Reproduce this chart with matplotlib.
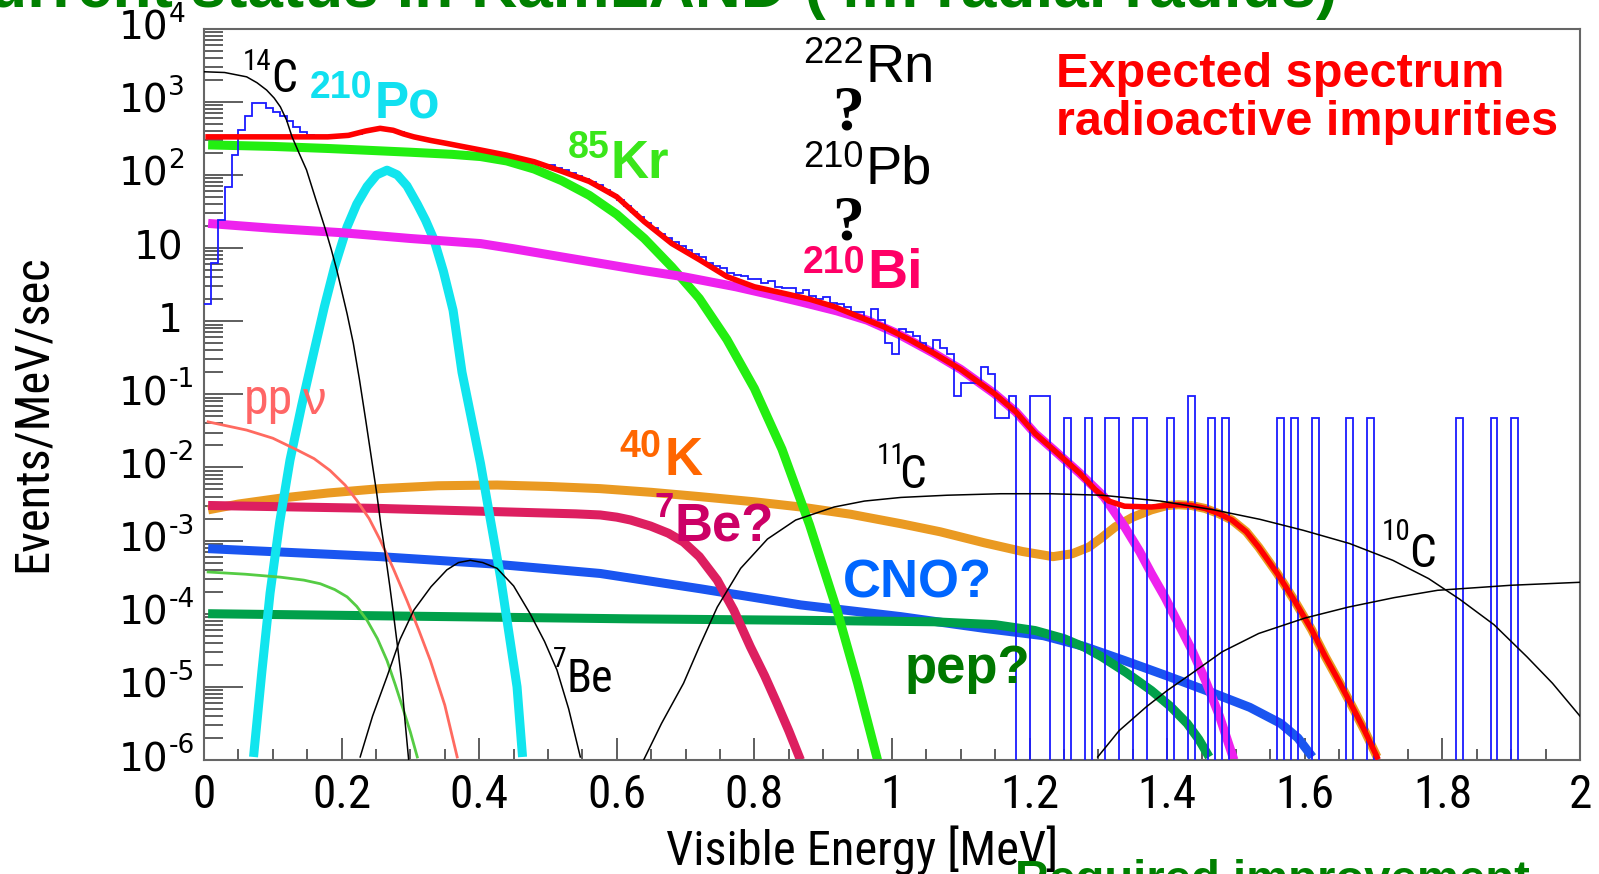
import numpy as np
import matplotlib
matplotlib.use('Agg')
import matplotlib.pyplot as plt
from matplotlib import font_manager as fm
from matplotlib.transforms import offset_copy
from matplotlib.ticker import FixedLocator, FixedFormatter, LogLocator, NullFormatter, MultipleLocator

# ---------------- data (Visible energy [MeV], Events/MeV/sec) ----------------
c14_x = [0.0, 0.03, 0.062, 0.077, 0.091, 0.102, 0.111, 0.12, 0.128, 0.138, 0.149, 0.162, 0.176, 0.185, 0.193,
         0.2, 0.208, 0.217, 0.226, 0.235, 0.243, 0.251, 0.257, 0.263, 0.27, 0.276, 0.282, 0.287, 0.292, 0.298]
c14_y = [2570, 2510, 2190, 1820, 1445, 1122, 851, 562, 331, 200, 117, 47.9, 18.6, 9.55, 5.01,
         2.63, 1.26, 0.50, 0.158, 0.0447, 0.0141, 0.00447, 1.66e-3, 7.08e-4, 2.40e-4, 8.91e-5, 3.16e-5,
         1.26e-5, 3.55e-6, 8.9e-7]

total_x = [0.006, 0.10, 0.18, 0.21, 0.235, 0.256, 0.275, 0.29, 0.305, 0.33, 0.353, 0.38, 0.402, 0.44, 0.48,
           0.52, 0.56, 0.60, 0.64, 0.68, 0.72, 0.76, 0.80, 0.843, 0.88, 0.916, 0.95, 0.988, 1.025, 1.061, 1.10,
           1.149, 1.18, 1.208, 1.24, 1.273, 1.295, 1.315, 1.338, 1.377, 1.40, 1.416, 1.435, 1.455, 1.475, 1.494,
           1.515, 1.533, 1.56, 1.585, 1.61, 1.630, 1.65, 1.669, 1.687, 1.705]
total_y = [331, 331, 331, 347, 398, 433, 407, 363, 331, 295, 269, 240, 219, 186, 151,
           112, 81.3, 50.1, 22.9, 11.5, 6.92, 4.07, 2.95, 2.40, 2.0, 1.58, 1.17, 0.838, 0.562, 0.363, 0.219,
           0.102, 0.0575, 0.0291, 0.0158, 0.00832, 0.00501, 0.00347, 0.00295, 0.00288, 0.00302, 0.00309, 0.00302,
           0.00275, 0.00234, 0.00191, 0.00132, 8.13e-4, 3.55e-4, 1.51e-4, 6.03e-5, 2.57e-5, 1.17e-5, 5.37e-6,
           2.51e-6, 1.10e-6]

kr85_x = [0.006, 0.10, 0.183, 0.30, 0.36, 0.402, 0.44, 0.48, 0.52, 0.56, 0.60, 0.64, 0.68, 0.72, 0.76, 0.80,
          0.84, 0.88, 0.92, 0.95, 0.979]
kr85_y = [257, 245, 229, 204, 191, 178, 155, 120, 83.2, 52.5, 28.8, 13.5, 5.50, 2.04, 0.562, 0.120,
          0.0178, 0.00166, 1.12e-4, 1.12e-5, 1.0e-6]

bi210_x = [0.006, 0.10, 0.20, 0.30, 0.402, 0.45, 0.50, 0.576, 0.64, 0.697, 0.773, 0.82, 0.867, 0.92, 0.964,
           1.01, 1.061, 1.10, 1.149, 1.18, 1.208, 1.24, 1.273, 1.308, 1.338, 1.36, 1.377, 1.397, 1.416, 1.436,
           1.455, 1.476, 1.497]
bi210_y = [21.7, 18.6, 16.2, 13.5, 11.5, 9.77, 8.13, 6.17, 4.90, 4.05, 2.95, 2.34, 1.84, 1.38, 1.03,
           0.661, 0.363, 0.219, 0.102, 0.0575, 0.0291, 0.0158, 0.00832, 0.00398, 0.00155, 7.08e-4, 3.55e-4,
           1.66e-4, 7.41e-5, 3.16e-5, 1.26e-5, 3.98e-6, 1.0e-6]

po210_x = [0.072, 0.084, 0.096, 0.110, 0.125, 0.142, 0.159, 0.175, 0.19, 0.208, 0.222, 0.237, 0.251, 0.266,
           0.281, 0.295, 0.31, 0.322, 0.334, 0.348, 0.362, 0.375, 0.388, 0.402, 0.416, 0.431, 0.443, 0.455, 0.463]
po210_y = [1.10e-6, 1.58e-5, 1.91e-4, 1.78e-3, 0.0126, 0.0708, 0.355, 1.58, 5.62, 19.5, 39.8, 69.2, 100, 116,
           100, 70.8, 39.8, 24.0, 13.2, 4.79, 1.41, 0.200, 0.0501, 0.0112, 2.0e-3, 3.16e-4, 5.62e-5, 1.0e-5, 1.10e-6]

k40_x = [0.006, 0.05, 0.111, 0.18, 0.256, 0.34, 0.426, 0.50, 0.576, 0.65, 0.722, 0.80, 0.867, 0.94, 1.013, 1.07,
         1.134, 1.19, 1.234, 1.262, 1.286, 1.305, 1.325, 1.35, 1.377, 1.40, 1.416, 1.435, 1.455, 1.475, 1.494,
         1.515, 1.533, 1.56, 1.585, 1.61, 1.630, 1.65, 1.669, 1.687, 1.705]
k40_y = [0.00263, 0.00316, 0.00380, 0.00447, 0.00513, 0.00562, 0.00575, 0.00550, 0.00513, 0.00457, 0.00398,
         0.00339, 0.00288, 0.00229, 0.00170, 0.00132, 9.33e-4, 7.08e-4, 6.03e-4, 6.61e-4, 8.13e-4, 0.00110,
         0.00155, 0.00209, 0.00263, 0.00302, 0.00309, 0.00302, 0.00275, 0.00234, 0.00191, 0.00132, 8.13e-4,
         3.55e-4, 1.51e-4, 6.03e-5, 2.57e-5, 1.17e-5, 5.37e-6, 2.51e-6, 1.10e-6]

be7nu_x = [0.006, 0.256, 0.450, 0.54, 0.576, 0.60, 0.62, 0.649, 0.675, 0.697, 0.72, 0.746, 0.77, 0.794, 0.815,
           0.833, 0.85, 0.867]
be7nu_y = [0.00302, 0.00275, 0.00245, 0.00232, 0.00224, 0.00209, 0.00191, 0.00158, 0.00126, 9.55e-4, 6.03e-4,
           2.88e-4, 1.12e-4, 3.55e-5, 1.41e-5, 5.89e-6, 2.51e-6, 1.0e-6]

cno_x = [0.006, 0.256, 0.42, 0.576, 0.722, 0.867, 1.013, 1.134, 1.22, 1.28, 1.338, 1.40, 1.468, 1.52, 1.565,
         1.59, 1.611]
cno_y = [7.76e-4, 6.03e-4, 4.79e-4, 3.55e-4, 2.19e-4, 1.32e-4, 9.12e-5, 6.31e-5, 5.01e-5, 3.55e-5, 2.29e-5,
         1.41e-5, 8.13e-6, 5.25e-6, 3.16e-6, 2.0e-6, 1.10e-6]

pep_x = [0.006, 0.620, 0.867, 1.061, 1.15, 1.208, 1.25, 1.28, 1.305, 1.34, 1.377, 1.405, 1.429, 1.446, 1.461]
pep_y = [1.0e-4, 8.51e-5, 8.13e-5, 7.76e-5, 7.08e-5, 5.89e-5, 4.57e-5, 3.47e-5, 2.57e-5, 1.58e-5, 8.91e-6,
         5.37e-6, 3.16e-6, 1.91e-6, 1.10e-6]

ppnu_x = [0.006, 0.062, 0.10, 0.135, 0.16, 0.183, 0.205, 0.222, 0.24, 0.256, 0.275, 0.295, 0.312, 0.329, 0.35, 0.368]
ppnu_y = [0.0420, 0.0324, 0.0251, 0.0174, 0.0132, 0.00912, 0.00575, 0.00355, 0.00200, 0.00102, 4.17e-4,
          1.51e-4, 6.03e-5, 2.29e-5, 5.62e-6, 1.10e-6]

lgreen_x = [0.006, 0.06, 0.111, 0.145, 0.169, 0.19, 0.208, 0.222, 0.237, 0.252, 0.266, 0.278, 0.290, 0.300, 0.310]
lgreen_y = [3.72e-4, 3.47e-4, 3.16e-4, 2.88e-4, 2.57e-4, 2.14e-4, 1.70e-4, 1.26e-4, 8.13e-5, 4.57e-5, 2.29e-5,
            1.07e-5, 4.79e-6, 2.40e-6, 1.10e-6]

be7_x = [0.227, 0.245, 0.266, 0.285, 0.305, 0.33, 0.353, 0.37, 0.387, 0.405, 0.426, 0.45, 0.474, 0.495, 0.513,
         0.53, 0.547]
be7_y = [1.10e-6, 3.98e-6, 1.38e-5, 4.47e-5, 1.12e-4, 2.34e-4, 3.98e-4, 5.01e-4, 5.37e-4, 5.01e-4, 4.17e-4,
         2.40e-4, 1.0e-4, 4.17e-5, 1.70e-5, 5.01e-6, 1.10e-6]

c11_x = [0.639, 0.665, 0.697, 0.72, 0.746, 0.78, 0.819, 0.86, 0.916, 0.96, 1.013, 1.08, 1.158, 1.23, 1.305,
         1.39, 1.468, 1.535, 1.598, 1.665, 1.728, 1.78, 1.825, 1.875, 1.923, 1.96, 2.0]
c11_y = [1.0e-6, 3.16e-6, 1.12e-5, 3.55e-5, 1.23e-4, 4.17e-4, 1.05e-3, 1.91e-3, 2.88e-3, 3.47e-3, 3.89e-3,
         4.17e-3, 4.37e-3, 4.37e-3, 4.17e-3, 3.47e-3, 2.63e-3, 1.95e-3, 1.38e-3, 9.12e-4, 5.37e-4, 3.02e-4,
         1.58e-4, 7.08e-5, 2.57e-5, 1.12e-5, 3.98e-6]

c10_x = [1.299, 1.33, 1.370, 1.40, 1.435, 1.48, 1.533, 1.60, 1.663, 1.73, 1.793, 1.90, 2.0]
c10_y = [1.10e-6, 2.51e-6, 5.37e-6, 8.91e-6, 1.51e-5, 3.02e-5, 5.37e-5, 8.71e-5, 1.23e-4, 1.66e-4, 2.09e-4,
         2.45e-4, 2.69e-4]

# measured spectrum: 0.01 MeV bins from 0 to 2 MeV
hist_lo, hist_hi, hist_nbins = 0.0, 2.0, 200
hist_vals = [
    1.74, 6.17, 24.0, 69.2, 186, 407, 631, 955, 955, 832,
    724, 631, 537, 447, 380, 355, 339, 331, 331, 339,
    339, 347, 363, 389, 417, 427, 427, 407, 380, 347,
    331, 316, 302, 288, 275, 263, 251, 245, 234, 224,
    219, 209, 200, 191, 182, 174, 162, 155, 145, 138,
    135, 126, 117, 105, 97.7, 89.1, 79.4, 72.4, 63.1, 52.5,
    44.7, 37.2, 30.9, 26.3, 21.9, 18.6, 15.5, 13.5, 12.0, 10.5,
    9.33, 8.32, 7.59, 6.31, 5.75, 5.25, 4.57, 4.27, 4.17, 3.72,
    3.80, 3.31, 3.55, 2.95, 2.82, 2.82, 2.40, 2.63, 2.24, 2.04,
    2.14, 1.78, 1.74, 1.58, 1.35, 1.32, 1.07, 1.45, 1.05, 0.50,
    0.355, 0.79, 0.71, 0.63, 0.50, 0.42, 0.55, 0.43, 0.355, 0.094,
    0.141, 0.141, 0.141, 0.235, 0.188, 0.047, 0.047, 0.094, 0, 0,
    0.094, 0.094, 0.094, 0, 0, 0.047, 0, 0, 0.047, 0,
    0, 0.047, 0.047, 0, 0, 0.047, 0.047, 0, 0, 0,
    0.047, 0, 0, 0.094, 0, 0, 0.047, 0, 0.047, 0,
    0, 0, 0, 0, 0, 0, 0.047, 0, 0.047, 0,
    0, 0.047, 0, 0, 0, 0, 0.047, 0, 0, 0.047,
    0, 0, 0, 0, 0, 0, 0, 0, 0, 0,
    0, 0, 0.047, 0, 0, 0, 0, 0.047, 0, 0,
    0.047, 0, 0, 0, 0, 0, 0, 0, 0, 0,
]

xticks = [0, 0.2, 0.4, 0.6, 0.8, 1, 1.2, 1.4, 1.6, 1.8, 2]
xtick_labels = ['0', '0.2', '0.4', '0.6', '0.8', '1', '1.2', '1.4', '1.6', '1.8', '2']
yticks = [1e-6, 1e-5, 1e-4, 1e-3, 1e-2, 1e-1, 1, 10, 1e2, 1e3, 1e4]
ytick_base = ['10', '10', '10', '10', '10', '10', '1', '10', '10', '10', '10']
ytick_exp = ['-6', '-5', '-4', '-3', '-2', '-1', '', '', '2', '3', '4']

# ---------------- fonts ----------------
avail = {f.name for f in fm.fontManager.ttflist}
def pick(cands):
    for c in cands:
        if c in avail:
            return c
    return 'DejaVu Sans'
NARROW = pick(['Liberation Sans Narrow', 'Roboto Condensed', 'Open Sans Condensed', 'DejaVu Sans'])
SANS = pick(['Liberation Sans', 'Arial', 'DejaVu Sans'])
SERIF = pick(['Liberation Serif', 'DejaVu Serif'])

# ---------------- figure ----------------
W, H = 1599, 874
fig = plt.figure(figsize=(W / 100, H / 100), dpi=100)
fig.patch.set_facecolor('white')
ax = fig.add_axes([204 / W, 1 - 760 / H, (1580 - 204) / W, (760 - 28.6) / H])
ax.set_yscale('log')
ax.set_xlim(0, 2.0)
ax.set_ylim(1e-6, 1e4)

thick = 6.5
kw = dict(solid_capstyle='butt', solid_joinstyle='round')
ax.plot(k40_x, k40_y, color='#ea9a22', lw=thick, zorder=2, **kw)
ax.plot(cno_x, cno_y, color='#1a55f0', lw=thick, zorder=2.05, **kw)
ax.plot(pep_x, pep_y, color='#00a04a', lw=thick, zorder=2.1, **kw)
ax.plot(be7nu_x, be7nu_y, color='#dd1f60', lw=thick, zorder=2.2, **kw)
ax.plot(po210_x, po210_y, color='#11e5ee', lw=thick, zorder=2.3, **kw)
ax.plot(kr85_x, kr85_y, color='#22ee11', lw=thick, zorder=2.4, **kw)
ax.plot(bi210_x, bi210_y, color='#ee22ee', lw=thick, zorder=2.5, **kw)
ax.plot(ppnu_x, ppnu_y, color='#ff6a60', lw=2.0, zorder=3)
ax.plot(lgreen_x, lgreen_y, color='#55cc44', lw=2.0, zorder=3)

edges = np.linspace(hist_lo, hist_hi, hist_nbins + 1)
hv = np.array(hist_vals, dtype=float)
hv = np.where(hv > 0, hv, 1e-12)
ax.stairs(hv, edges, color='#1a1aff', lw=1.3, baseline=None, zorder=4)

ax.plot(total_x, total_y, color='#ff0000', lw=4.0, zorder=5, solid_joinstyle='round')
for xs, ys in [(c14_x, c14_y), (be7_x, be7_y), (c11_x, c11_y), (c10_x, c10_y)]:
    ax.plot(xs, ys, color='black', lw=1.1, zorder=6)

# axes styling
for s in ax.spines.values():
    s.set_color('#666666')
    s.set_linewidth(1.5)
ax.xaxis.set_major_locator(FixedLocator(xticks))
ax.xaxis.set_major_formatter(FixedFormatter(xtick_labels))
ax.xaxis.set_minor_locator(MultipleLocator(0.05))
ax.yaxis.set_major_locator(FixedLocator(yticks))
ax.yaxis.set_major_formatter(NullFormatter())
ax.yaxis.set_minor_locator(LogLocator(base=10, subs=np.arange(2, 10), numticks=30))
ax.yaxis.set_minor_formatter(NullFormatter())
ax.tick_params(axis='x', which='major', direction='in', length=16, width=1.1, color='#333333', pad=9)
ax.tick_params(axis='x', which='minor', direction='in', length=8, width=1.1, color='#333333')
ax.tick_params(axis='y', which='major', direction='in', length=28, width=1.1, color='#333333')
ax.tick_params(axis='y', which='minor', direction='in', length=14, width=1.1, color='#333333')
for lab in ax.get_xticklabels():
    lab.set_fontfamily(NARROW)
    lab.set_fontsize(34)

# y tick labels: "10" with a small raised exponent
ytr = ax.get_yaxis_transform()
exp_tr = offset_copy(ytr, fig=fig, x=0, y=5, units='points')
for val, base, ex in zip(yticks, ytick_base, ytick_exp):
    if ex:
        ax.text(-0.0258, val, base, transform=ytr, ha='right', va='center', fontsize=28,
                family='DejaVu Sans', clip_on=False)
        ax.text(-0.0258, val, ex, transform=exp_tr, ha='left', va='baseline', fontsize=19,
                family='DejaVu Sans', clip_on=False)
    else:
        ax.text(-0.0153, val, base, transform=ytr, ha='right', va='center', fontsize=28,
                family='DejaVu Sans', clip_on=False)

# ---------------- text ----------------
def fx(px):
    return px / W

def fy(py):
    return 1 - py / H

def put(x, y, s, size, color='black', weight='normal', family=None, **kw):
    return fig.text(fx(x), fy(y), s, fontsize=size, color=color, fontweight=weight,
                    family=family or SANS, ha=kw.pop('ha', 'left'), va=kw.pop('va', 'baseline'), **kw)

# axis titles
put(33, 413, 'Events/MeV/sec', 35, family=NARROW, rotation=90, ha='center', va='center')
put(666, 865, 'Visible Energy [MeV]', 35, family=NARROW)

# black labels
put(243, 70, '14', 21, family=NARROW)
put(271, 92, 'C', 33, family=NARROW)
put(553, 667, '7', 20, family=NARROW)
put(566, 692, 'Be', 33, family=NARROW)
put(877, 464, '11', 21, family=NARROW)
put(899, 488, 'C', 34, family=NARROW)
put(1382, 540, '10', 21, family=NARROW)
put(1409, 567, 'C', 34, family=NARROW)
put(244, 414, 'pp', 36, color='#ff6666', family=NARROW)
put(302, 414, 'ν', 34, color='#ff6666', family=SANS)

# coloured labels
put(310, 98, '210', 27, color='#11e0f0', weight='bold')
put(375, 117, 'Po', 37, color='#11e0f0', weight='bold')
put(568, 158, '85', 27, color='#3ae61a', weight='bold')
put(611, 178, 'Kr', 38, color='#3ae61a', weight='bold')
put(803, 63, '222', 26)
put(866, 82, 'Rn', 39)
put(832, 130, '?', 46, weight='bold', family=SERIF)
put(803, 167, '210', 26)
put(866, 184, 'Pb', 39)
put(832, 239, '?', 46, weight='bold', family=SERIF)
put(803, 273, '210', 27, color='#ff0066', weight='bold')
put(867, 288, 'Bi', 40, color='#ff0066', weight='bold')
put(1056, 87, 'Expected spectrum', 35, color='#ff0000', weight='bold')
put(1056, 135, 'radioactive impurities', 35, color='#ff0000', weight='bold')
put(619, 457, '40', 27, color='#ff6600', weight='bold')
put(664, 475, 'K', 38, color='#ff6600', weight='bold')
put(655, 517, '7', 25, color='#cc0066', weight='bold')
put(674, 542, 'Be?', 38, color='#cc0066', weight='bold')
put(843, 597, 'CNO?', 38, color='#0066ff', weight='bold')
put(905, 683, 'pep?', 38, color='#007700', weight='bold')

# cut-off slide texts
put(-58, 7, 'Current status in KamLAND (4m radial radius)', 46, color='#008000', weight='bold')
put(1015, 893, 'Required improvement', 34, color='#008000', weight='bold')

fig.savefig('out.png', dpi=100, facecolor='white')
